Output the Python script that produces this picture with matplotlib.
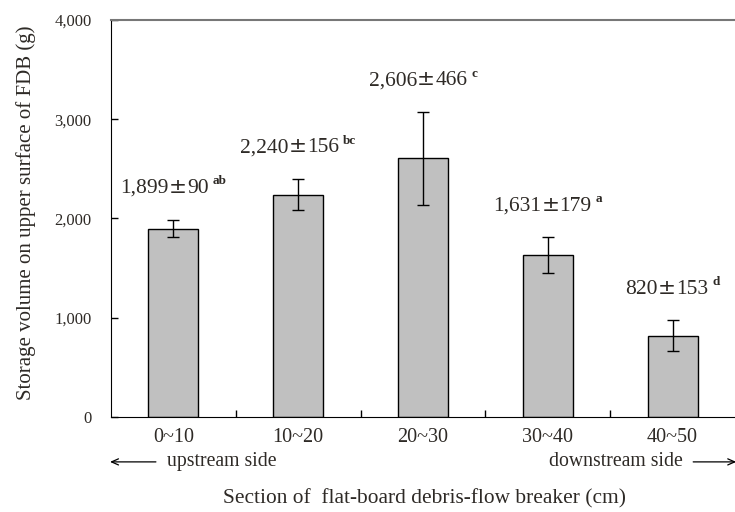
import matplotlib
matplotlib.use("Agg")
import matplotlib.pyplot as plt
from matplotlib.ticker import FuncFormatter, FixedLocator
from matplotlib.transforms import offset_copy

plt.rcParams['font.family'] = ['Liberation Serif', 'DejaVu Serif']

# data
sections = ["0~10", "10~20", "20~30", "30~40", "40~50"]
means = [1899, 2240, 2606, 1631, 820]
sds = [90, 156, 466, 179, 153]
groups = ["ab", "bc", "c", "a", "d"]

TEXT = "#2e2a26"

fig = plt.figure(figsize=(7.35, 5.12), dpi=100)
ax = fig.add_axes([0.151, 0.1855, 0.849, 0.7755])

x = list(range(len(sections)))
ax.bar(x, means, width=0.4, color="#c0c0c0", edgecolor="black", linewidth=1.0, zorder=2)
ax.errorbar(x, means, yerr=sds, fmt="none", ecolor="black", elinewidth=1.0,
            capsize=4, capthick=1.0, zorder=3)

ax.set_xlim(-0.5, 4.5)
ax.set_ylim(0, 4000)
ax.set_yticks([0, 1000, 2000, 3000, 4000])
ax.yaxis.set_major_formatter(FuncFormatter(lambda v, p: "{:,}".format(int(v))))
ax.tick_params(axis="y", direction="in", length=5, width=1, labelsize=12,
               labelcolor=TEXT, pad=14)

ax.set_xticks(x)
ax.set_xticklabels(sections)
ax.xaxis.set_minor_locator(FixedLocator([0.5, 1.5, 2.5, 3.5]))
ax.tick_params(axis="x", which="major", length=0, labelsize=14.5, labelcolor=TEXT, pad=8)
ax.tick_params(axis="x", which="minor", direction="in", length=5, width=1)

ax.spines["right"].set_visible(False)
ax.spines["top"].set_color("#777777")
ax.spines["top"].set_linewidth(1.5)

ax.set_ylabel("Storage volume on upper surface of FDB (g)", fontsize=15, color=TEXT)
ax.yaxis.set_label_coords(-0.12, 0.514)

# value labels: mean, wide plus-minus sign, sd and superscript group letters
fig.canvas.draw()
renderer = fig.canvas.get_renderer()
for xi, m, s, g in zip(x, means, sds, groups):
    ybase = m + s + 270
    pieces = [("{:,}".format(m), "Liberation Serif", 15.5, 0, 0),
              ("\u00b1", "DejaVu Sans", 15.5, 0, 0),
              (str(s), "Liberation Serif", 15.5, 0, 0),
              (g, "Liberation Serif", 9.5, 4, 6)]
    texts = []
    widths = []
    for txt, fam, size, gap, rise in pieces:
        t = ax.text(xi, ybase, txt, family=fam, fontsize=size, color=TEXT,
                    ha="left", va="baseline", fontweight="bold" if size < 12 else "normal")
        widths.append(t.get_window_extent(renderer).width + gap)
        texts.append(t)
    total = sum(widths)
    cur = -total / 2
    for t, w, p in zip(texts, widths, pieces):
        cur += p[3]
        t.set_transform(offset_copy(ax.transData, fig=fig, x=cur, y=p[4] * 100 / 72,
                                    units="dots"))
        cur += w - p[3]

# direction arrows below the tick labels
yrow = -0.113
ax.annotate("", xy=(-0.508, yrow), xytext=(-0.14, yrow),
            xycoords=("data", "axes fraction"), textcoords=("data", "axes fraction"),
            annotation_clip=False,
            arrowprops=dict(arrowstyle="->,head_length=0.5,head_width=0.22", color="black",
                            lw=0.9, shrinkA=0, shrinkB=0))
ax.text(-0.05, yrow, "upstream side", transform=ax.get_xaxis_transform(), ha="left",
        va="center", fontsize=14.2, color=TEXT)
ax.annotate("", xy=(4.51, yrow), xytext=(4.165, yrow),
            xycoords=("data", "axes fraction"), textcoords=("data", "axes fraction"),
            annotation_clip=False,
            arrowprops=dict(arrowstyle="->,head_length=0.5,head_width=0.22", color="black",
                            lw=0.9, shrinkA=0, shrinkB=0))
ax.text(4.083, yrow, "downstream side", transform=ax.get_xaxis_transform(), ha="right",
        va="center", fontsize=14.2, color=TEXT)

fig.text(0.578, 0.026, "Section of  flat-board debris-flow breaker (cm)", ha="center",
         va="center", fontsize=15.4, color=TEXT)

fig.savefig("out.png", dpi=100)
